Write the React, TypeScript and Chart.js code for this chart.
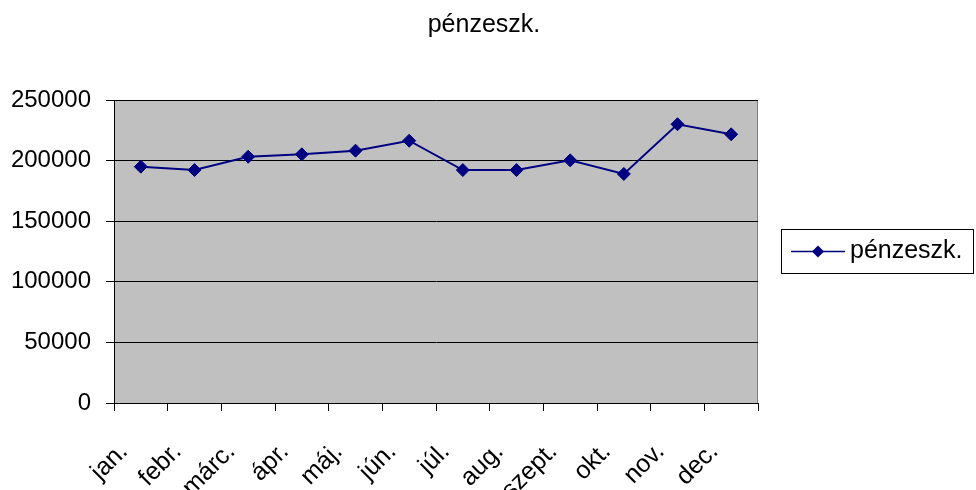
import React, { useEffect, useRef } from "react";
import { Chart, registerables } from "chart.js";

Chart.register(...registerables);

const categories = ["jan.", "febr.", "márc.", "ápr.", "máj.", "jún.", "júl.", "aug.", "szept.", "okt.", "nov.", "dec."];
const values = [195000, 192200, 203200, 205200, 208200, 216400, 192200, 192200, 200200, 189000, 230000, 221700];
const seriesName = "pénzeszk.";
const titleText = "pénzeszk.";
const yMin = 0;
const yMax = 250000;
const yStep = 50000;

const FONT = "Arial, 'Liberation Sans', sans-serif";
const LINE = "#000080";

const decorPlugin = {
  id: "decor",
  beforeDraw(chart: any) {
    const { ctx, chartArea } = chart;
    ctx.save();
    ctx.fillStyle = "#C0C0C0";
    ctx.fillRect(chartArea.left, chartArea.top, chartArea.right - chartArea.left, chartArea.bottom - chartArea.top);
    ctx.strokeStyle = "#808080";
    ctx.lineWidth = 1;
    ctx.beginPath();
    ctx.moveTo(chartArea.left, chartArea.top + 0.5);
    ctx.lineTo(chartArea.right - 0.5, chartArea.top + 0.5);
    ctx.lineTo(chartArea.right - 0.5, chartArea.bottom);
    ctx.stroke();
    ctx.restore();
  },
  afterDraw(chart: any) {
    const { ctx } = chart;
    ctx.save();
    // title
    ctx.fillStyle = "#000";
    ctx.font = `25px ${FONT}`;
    ctx.textAlign = "center";
    ctx.textBaseline = "middle";
    ctx.fillText(titleText, 484, 25);
    // legend
    const lx = 781, ly = 229, lw = 192, lh = 44;
    ctx.strokeStyle = "#000";
    ctx.lineWidth = 1;
    ctx.strokeRect(lx + 0.5, ly + 0.5, lw, lh);
    const cy = ly + lh / 2 + 0.5;
    ctx.strokeStyle = LINE;
    ctx.lineWidth = 1.5;
    ctx.beginPath();
    ctx.moveTo(lx + 10, cy);
    ctx.lineTo(lx + 64, cy);
    ctx.stroke();
    ctx.fillStyle = LINE;
    const mx = lx + 37, r = 6;
    ctx.beginPath();
    ctx.moveTo(mx, cy - r);
    ctx.lineTo(mx + r, cy);
    ctx.lineTo(mx, cy + r);
    ctx.lineTo(mx - r, cy);
    ctx.closePath();
    ctx.fill();
    ctx.fillStyle = "#000";
    ctx.textAlign = "left";
    ctx.fillText(seriesName, lx + 69, cy);
    ctx.restore();
  },
};

export default function App() {
  const ref = useRef<HTMLCanvasElement>(null);
  useEffect(() => {
    document.body.style.margin = "0";
    const chart = new Chart(ref.current!, {
      type: "line",
      data: {
        labels: categories,
        datasets: [
          {
            label: seriesName,
            data: values,
            borderColor: LINE,
            backgroundColor: LINE,
            borderWidth: 2,
            pointStyle: "rectRot",
            pointRadius: 6.5,
            pointBackgroundColor: LINE,
            pointBorderColor: LINE,
            pointBorderWidth: 1,
            tension: 0,
          },
        ],
      },
      options: {
        responsive: false,
        animation: false,
        layout: { padding: { top: 100, right: 218, left: 0, bottom: 0 } },
        plugins: {
          legend: { display: false },
          title: { display: false },
          tooltip: { enabled: false },
        },
        scales: {
          x: {
            offset: true,
            grid: {
              offset: true,
              drawOnChartArea: false,
              drawTicks: true,
              tickLength: 8,
              color: "#000",
            },
            border: { display: true, color: "#000", width: 1 },
            ticks: {
              color: "#000",
              font: { family: FONT, size: 25 },
              maxRotation: 45,
              minRotation: 45,
              padding: 26,
              labelOffset: -17,
              autoSkip: false,
            },
            afterFit(scale: any) {
              scale.height = 87;
            },
          },
          y: {
            min: yMin,
            max: yMax,
            grid: { color: "#000", tickLength: 8, lineWidth: 1 },
            border: { display: true, color: "#000", width: 1 },
            ticks: {
              stepSize: yStep,
              color: "#000",
              font: { family: FONT, size: 24 },
              padding: 15,
              callback: (v: any) => String(v),
            },
            afterFit(scale: any) {
              scale.width = 114;
            },
          },
        },
      },
      plugins: [decorPlugin],
    });
    return () => chart.destroy();
  }, []);
  return (
    <div style={{ position: "relative", width: 976, height: 490 }}>
      <canvas ref={ref} width={976} height={490} style={{ display: "block" }} />
    </div>
  );
}
